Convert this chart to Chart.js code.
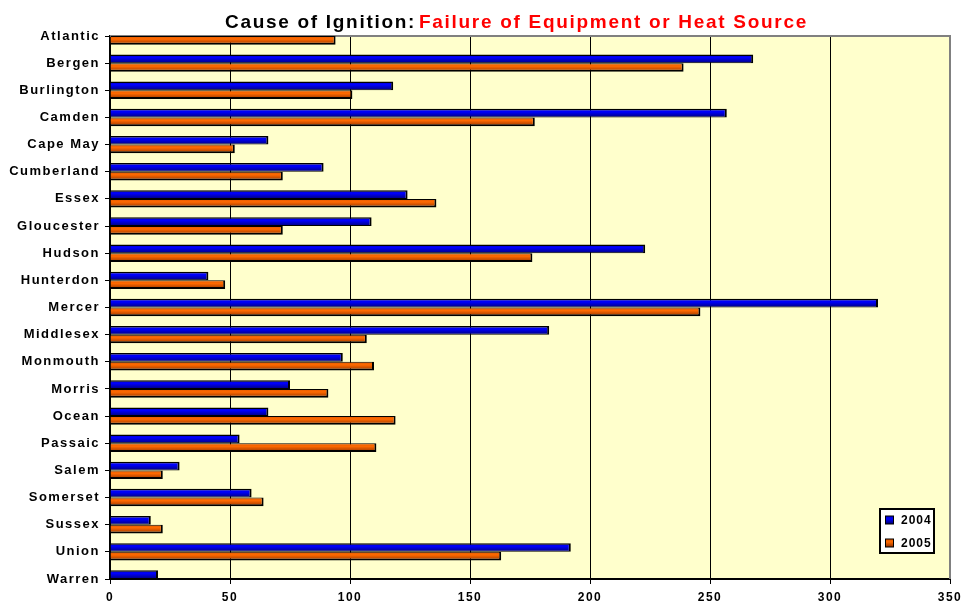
<!DOCTYPE html>
<html>
<head>
<meta charset="utf-8">
<script src="https://cdn.jsdelivr.net/npm/chart.js@4"></script>
<style>
  html, body { margin: 0; padding: 0; background: #fff; }
</style>
</head>
<body>
<canvas id="ignition-chart" width="964" height="607"></canvas>
<script>
const counties = ["Atlantic", "Bergen", "Burlington", "Camden", "Cape May", "Cumberland", "Essex",
    "Gloucester", "Hudson", "Hunterdon", "Mercer", "Middlesex", "Monmouth", "Morris", "Ocean",
    "Passaic", "Salem", "Somerset", "Sussex", "Union", "Warren"]
const fires2004 = [0, 268, 118, 257, 66, 89, 124, 109, 223, 41, 320, 183, 97, 75, 66, 54, 29, 59, 17, 192, 20]
const fires2005 = [94, 239, 101, 177, 52, 72, 136, 72, 176, 48, 246, 107, 110, 91, 119, 111, 22, 64, 22, 163, 0]
const seriesNames = ["2004", "2005"]
const xTicks = [0, 50, 100, 150, 200, 250, 300, 350]

const titleLead = "Cause of Ignition:"
const titleRest = "Failure of Equipment or Heat Source"

const FONT = "'Liberation Sans', Arial, sans-serif"
const CAT_PCT = 0.64

const blueShade = ["#0000c8", "#0000ff", "#00007a"]
const orangeShade = ["#e05800", "#ff6a00", "#963400"]

const ctx = document.querySelector("#ignition-chart")

// vertical gradient for one bar, worked out from the category scale
function barFill(shade) {
    return (c) => {
        const chart = c.chart
        const scale = chart.scales.y
        if (c.type !== "data" || !scale) return shade[1]
        const step = scale.getPixelForValue(1) - scale.getPixelForValue(0)
        const mid = scale.getPixelForValue(c.dataIndex)
        if (!Number.isFinite(step) || !Number.isFinite(mid) || step <= 0) return shade[1]
        const half = step * CAT_PCT / 2
        const top = c.datasetIndex === 0 ? mid - half : mid
        return gradient(chart.ctx, top, half, shade)
    }
}

function gradient(g, top, h, shade) {
    const lg = g.createLinearGradient(0, top, 0, top + h)
    lg.addColorStop(0, shade[0])
    lg.addColorStop(0.35, shade[1])
    lg.addColorStop(1, shade[2])
    return lg
}

const plotFrame = {
    id: "plotFrame",
    beforeDraw(chart) {
        const { ctx: g, chartArea: a } = chart
        g.save()
        g.fillStyle = "#ffffcc"
        g.fillRect(a.left, a.top, a.right - a.left, a.bottom - a.top)
        g.restore()
        g.letterSpacing = "1.5px"
    },
    beforeDatasetsDraw(chart) {
        const { ctx: g, chartArea: a } = chart
        g.save()
        g.strokeStyle = "#808080"
        g.lineWidth = 2
        g.beginPath()
        g.moveTo(a.left, a.top)
        g.lineTo(a.right, a.top)
        g.lineTo(a.right, a.bottom)
        g.stroke()
        g.restore()
    },
    afterDraw(chart) {
        const { ctx: g, chartArea: a } = chart
        g.save()

        // two-colour title
        g.letterSpacing = "1.7px"
        g.font = `bold 19px ${FONT}`
        g.textBaseline = "alphabetic"
        g.textAlign = "left"
        g.fillStyle = "#000"
        g.fillText(titleLead, 225, 28)
        const w = g.measureText(titleLead).width
        g.fillStyle = "#ff0000"
        g.fillText(titleRest, 225 + w + 3, 28)

        // legend box in the lower right of the plot
        const bx = a.right - 70, by = a.bottom - 70
        g.fillStyle = "#fff"
        g.fillRect(bx, by, 54, 44)
        g.strokeStyle = "#000"
        g.lineWidth = 2
        g.strokeRect(bx, by, 54, 44)
        const shades = [blueShade, orangeShade]
        g.letterSpacing = "1px"
        g.font = `bold 12px ${FONT}`
        g.textBaseline = "middle"
        chart.data.datasets.forEach((ds, i) => {
            const cy = by + 11 + i * 23
            g.fillStyle = "#000"
            g.fillRect(bx + 5, cy - 4.5, 9, 9)
            g.fillStyle = gradient(g, cy - 3.5, 7, shades[i])
            g.fillRect(bx + 6, cy - 3.5, 7, 7)
            g.fillStyle = "#000"
            g.fillText(ds.label, bx + 21, cy + 0.5)
        })
        g.restore()
        g.letterSpacing = "0px"
    }
}

new Chart(ctx, {
    type: "bar",
    data: {
        labels: counties,
        datasets: [{
            label: seriesNames[0],
            data: fires2004,
            backgroundColor: barFill(blueShade),
            borderWidth: { top: 1.5, right: 2, bottom: 1, left: 0 },
        }, {
            label: seriesNames[1],
            data: fires2005,
            backgroundColor: barFill(orangeShade),
            borderWidth: { top: 1, right: 2, bottom: 2, left: 0 },
        }]
    },
    options: {
        indexAxis: "y",
        responsive: false,
        animation: false,
        datasets: {
            bar: {
                barPercentage: 1,
                categoryPercentage: CAT_PCT,
                borderColor: "#000",
                borderSkipped: false,
            }
        },
        layout: {
            padding: { top: 36, right: 14, left: 0, bottom: 0 }
        },
        scales: {
            x: {
                min: 0,
                max: 350,
                afterBuildTicks: (s) => { s.ticks = xTicks.map(v => ({ value: v })) },
                afterFit: (s) => {
                    s.height = 28
                    s.paddingLeft = 0
                    s.paddingRight = 0
                },
                grid: {
                    color: (c) => c.tick && c.tick.value === 350 ? "rgba(0,0,0,0)" : "#000",
                    tickColor: "#000",
                    tickLength: 5,
                    lineWidth: 1,
                },
                border: { color: "#000", width: 2 },
                ticks: {
                    color: "#000",
                    padding: 6,
                    maxRotation: 0,
                    font: { family: FONT, size: 12, weight: "bold" }
                }
            },
            y: {
                offset: false,
                afterFit: (s) => {
                    s.width = 110
                    s.paddingTop = 0
                    s.paddingBottom = 0
                },
                grid: {
                    offset: false,
                    drawOnChartArea: false,
                    tickColor: "#000",
                    tickLength: 5,
                },
                border: { color: "#000", width: 2 },
                ticks: {
                    color: "#000",
                    padding: 5,
                    autoSkip: false,
                    font: { family: FONT, size: 13, weight: "bold" }
                }
            }
        },
        plugins: {
            legend: { display: false },
            tooltip: { enabled: false },
        }
    },
    plugins: [plotFrame]
});
</script>
</body>
</html>
